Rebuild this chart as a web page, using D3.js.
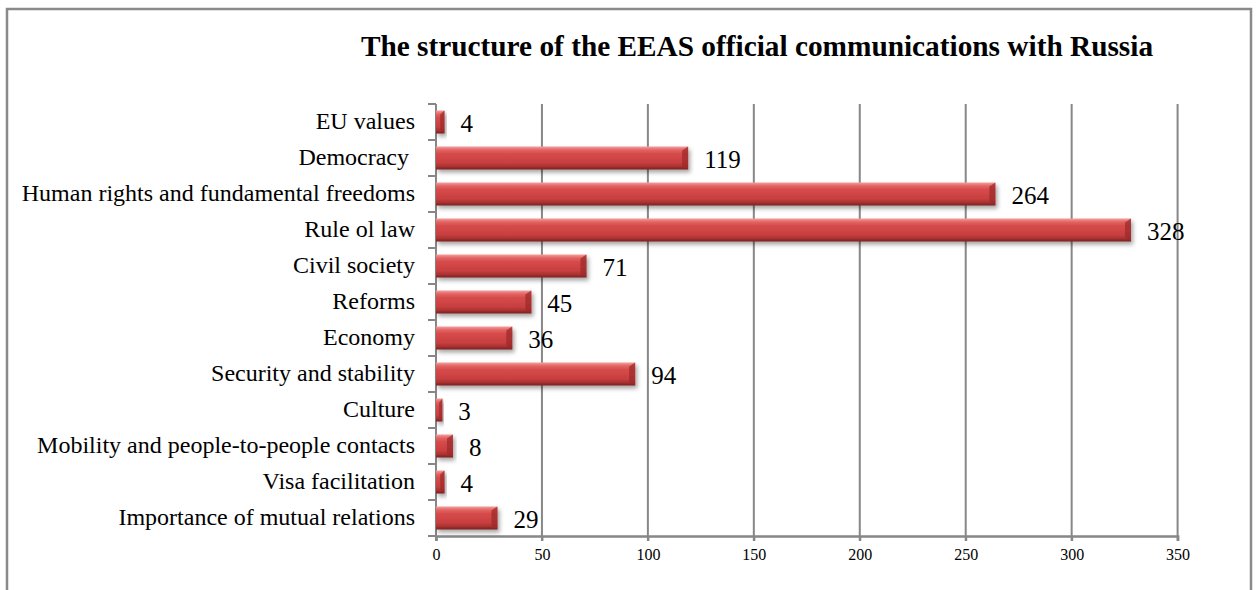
<!DOCTYPE html>
<html>
<head>
<meta charset="utf-8">
<script src="https://cdn.jsdelivr.net/npm/d3@7"></script>
<style>
  body { margin: 0; background: #fff; }
  text { font-family: "Liberation Serif", "Times New Roman", serif; }
</style>
</head>
<body>
<svg width="1257" height="590"></svg>
<script>
// categories top to bottom
const categories = [
  "EU values",
  "Democracy ",
  "Human rights and fundamental freedoms",
  "Rule ol law",
  "Civil society",
  "Reforms",
  "Economy",
  "Security and stability",
  "Culture",
  "Mobility and people-to-people contacts",
  "Visa facilitation",
  "Importance of mutual relations"
];
const values = [4, 119, 264, 328, 71, 45, 36, 94, 3, 8, 4, 29];
const xTicks = [0, 50, 100, 150, 200, 250, 300, 350];
const title = "The structure of the EEAS official communications with Russia";

const svg = d3.select("svg");
const plotL = 436, plotR = 1177.6, plotT = 104, plotB = 536;

// frame
svg.append("rect")
  .attr("x", 7).attr("y", 9).attr("width", 1244).attr("height", 600)
  .attr("fill", "none").attr("stroke", "#8a8a8a").attr("stroke-width", 2.5);

svg.append("text")
  .attr("x", 757).attr("y", 56)
  .attr("text-anchor", "middle")
  .attr("font-size", 29.3).attr("font-weight", "bold")
  .text(title);

const x = d3.scaleLinear().domain([0, 350]).range([plotL, plotR]);
const y = d3.scaleBand().domain(categories).range([plotT, plotB]).paddingInner(0.36).paddingOuter(0.18);
const band = d3.scaleBand().domain(categories).range([plotT, plotB]);

const defs = svg.append("defs");
const grad = defs.append("linearGradient").attr("id", "barGrad")
  .attr("x1", 0).attr("y1", 0).attr("x2", 0).attr("y2", 1);
[[0, "#f4a0a0"], [0.14, "#e46666"], [0.32, "#d64a4a"], [0.7, "#c83f3f"], [0.86, "#ab3232"], [1, "#7a1f1f"]]
  .forEach(s => grad.append("stop").attr("offset", s[0]).attr("stop-color", s[1]));
const shadow = defs.append("filter").attr("id", "shadow")
  .attr("x", "-10%").attr("y", "-30%").attr("width", "130%").attr("height", "180%");
shadow.append("feDropShadow").attr("dx", 2).attr("dy", 3).attr("stdDeviation", 2)
  .attr("flood-color", "#000").attr("flood-opacity", 0.35);

// gridlines
svg.append("g").selectAll("line").data(xTicks.slice(1)).join("line")
  .attr("x1", d => x(d)).attr("x2", d => x(d))
  .attr("y1", plotT).attr("y2", plotB + 5)
  .attr("stroke", "#878787").attr("stroke-width", 2);

// axes
const xAxis = svg.append("g").attr("transform", `translate(0,${plotB})`)
  .call(d3.axisBottom(x).tickValues(xTicks).tickSize(5).tickPadding(8));
xAxis.select(".domain").attr("stroke", "#878787").attr("stroke-width", 2.5);
xAxis.selectAll(".tick line").attr("stroke", "#878787").attr("stroke-width", 2);
xAxis.selectAll(".tick text").attr("font-size", 16).attr("font-family", "Liberation Serif").attr("fill", "#000");

const yAxisG = svg.append("g");
yAxisG.append("line").attr("x1", plotL).attr("x2", plotL).attr("y1", plotT).attr("y2", plotB + 5)
  .attr("stroke", "#878787").attr("stroke-width", 2);
yAxisG.selectAll("line.t").data(d3.range(categories.length + 1)).join("line")
  .attr("class", "t")
  .attr("x1", plotL - 8).attr("x2", plotL)
  .attr("y1", i => plotT + i * band.bandwidth()).attr("y2", i => plotT + i * band.bandwidth())
  .attr("stroke", "#878787").attr("stroke-width", 2);

// category labels
svg.append("g").selectAll("text").data(categories).join("text")
  .attr("x", 415)
  .attr("y", d => band(d) + band.bandwidth() / 2)
  .attr("dy", "0.31em")
  .attr("text-anchor", "end")
  .attr("font-size", 24)
  .style("white-space", "pre")
  .text(d => d);

// bars
const bars = svg.append("g").selectAll("g").data(values).join("g")
  .attr("filter", "url(#shadow)");
bars.append("rect")
  .attr("x", plotL)
  .attr("y", (d, i) => y(categories[i]))
  .attr("width", d => x(d) - plotL)
  .attr("height", y.bandwidth())
  .attr("fill", "url(#barGrad)");
// bevelled right end
bars.append("path")
  .attr("d", (d, i) => {
    const x1 = x(d), y0 = y(categories[i]), h = y.bandwidth();
    const b = Math.min(6, (x1 - plotL) / 2);
    return `M${x1 - b},${y0 + 4}L${x1},${y0}L${x1},${y0 + h}L${x1 - b},${y0 + h - 4}Z`;
  })
  .attr("fill", "#9e2a2a").attr("opacity", 0.75);

// value labels
svg.append("g").selectAll("text").data(values).join("text")
  .attr("x", d => x(d) + 16)
  .attr("y", (d, i) => band(categories[i]) + band.bandwidth() / 2)
  .attr("dy", "0.38em")
  .attr("font-size", 25)
  .text(d => d);
</script>
</body>
</html>
